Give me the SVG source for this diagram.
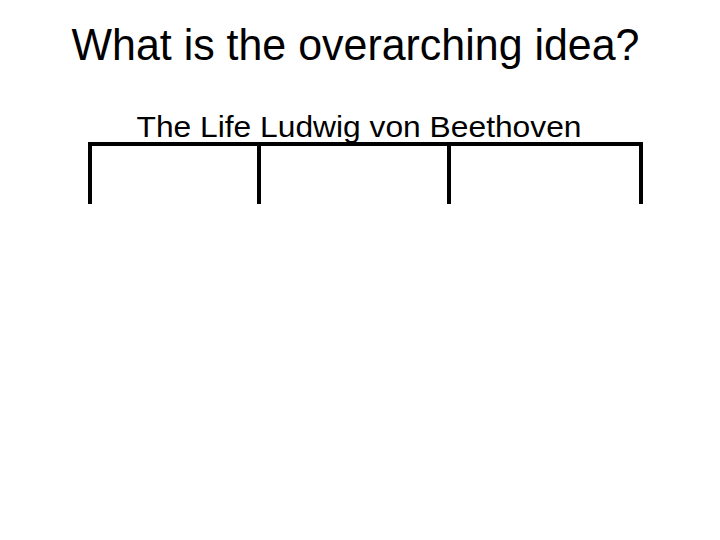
<svg xmlns="http://www.w3.org/2000/svg" width="720" height="540" viewBox="0 0 720 540">
<style>
text{font-family:"Liberation Sans",Arial,sans-serif;fill:#000}
.ln{stroke:#000;stroke-width:4;fill:none;stroke-linecap:square}
</style>
<rect width="720" height="540" fill="#fff"/>
<g id="title"><text x="71.5" y="60" font-size="44" textLength="568" lengthAdjust="spacingAndGlyphs">What is the overarching idea?</text></g>
<g id="root"><text x="136.5" y="137" font-size="30" textLength="445" lengthAdjust="spacingAndGlyphs">The Life Ludwig von Beethoven</text></g>
<g id="connectors">
<path class="ln" d="M90 144H641M90 144V202M259 144V202M449 144V202M641 144V202"/>
</g>
</svg>
